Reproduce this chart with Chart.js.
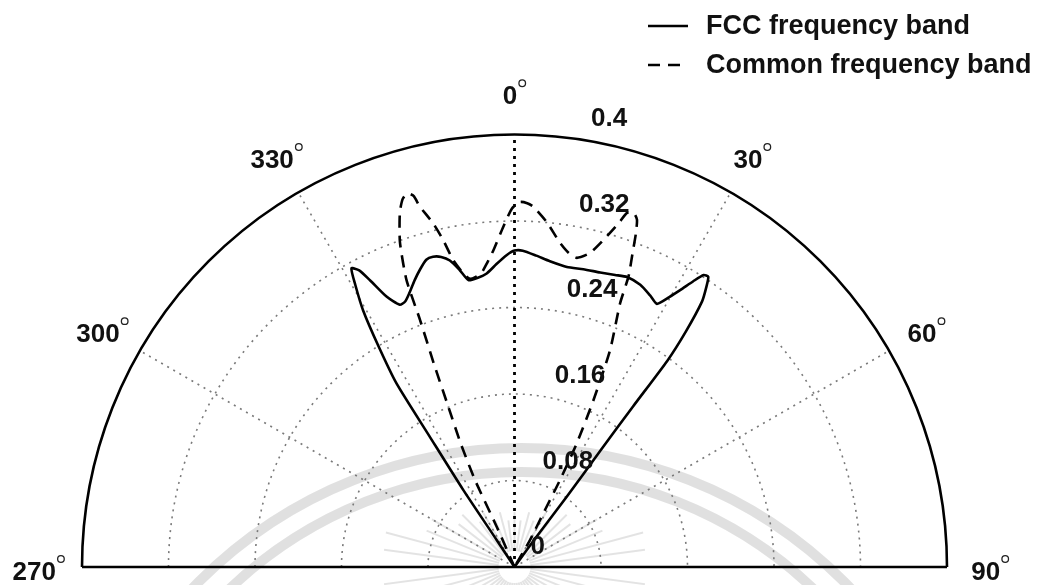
<!DOCTYPE html>
<html>
<head>
<meta charset="utf-8">
<script src="https://cdn.jsdelivr.net/npm/chart.js@4.4.1/dist/chart.umd.min.js"></script>
<style>
  html, body { margin: 0; padding: 0; background: #fff; }
</style>
</head>
<body>
<canvas id="polarChart" width="1039" height="585"></canvas>
<script>
// beam patterns, angle in degrees (0 = up), radius in plot units
var thetaFCC = [-33.5,-33.4,-33.6,-33.0,-32.7,-31.6,-30.5,-29.4,-28.6,-27.6,-26.7,-25.3,-23.6,-22.3,-20.9,-19.2,-17.6,-16.0,-14.7,-13.3,-11.9,-10.5,-9.1,-7.2,-5.4,-3.4,-1.4,0.0,1.5,4.0,6.6,9.9,13.0,16.2,19.0,21.2,24.0,26.5,28.4,29.8,30.9,32.0,32.9,33.7,34.4,35.2,36.0,36.5,36.4,36.4,36.6,35.8,35.0];
var rFCC = [0,0.030,0.086,0.144,0.202,0.240,0.276,0.300,0.315,0.310,0.297,0.277,0.265,0.266,0.272,0.281,0.289,0.296,0.297,0.295,0.290,0.280,0.269,0.270,0.273,0.281,0.289,0.293,0.293,0.289,0.285,0.282,0.283,0.284,0.286,0.288,0.286,0.281,0.277,0.288,0.299,0.312,0.322,0.323,0.314,0.301,0.270,0.238,0.185,0.134,0.081,0.030,0];

var thetaCommon = [-23.5,-23.8,-24.4,-23.5,-22.4,-21.6,-20.9,-20.6,-19.4,-17.9,-16.9,-16.0,-15.2,-14.7,-13.3,-12.3,-11.3,-9.9,-8.8,-7.6,-6.4,-5.1,-3.8,-1.9,-0.4,0.9,2.0,3.0,5.3,8.0,9.8,11.4,13.5,15.6,16.8,17.6,18.55,19.4,20.0,20.5,21.4,21.8,23.75,25.3,26.7,27.6,28.2,29.9,30.0];
var rCommon = [0,0.041,0.088,0.125,0.161,0.203,0.245,0.284,0.319,0.345,0.356,0.360,0.356,0.345,0.327,0.310,0.290,0.276,0.270,0.271,0.274,0.283,0.294,0.315,0.332,0.338,0.337,0.334,0.321,0.303,0.295,0.292,0.299,0.318,0.332,0.344,0.346,0.341,0.328,0.313,0.289,0.263,0.2195,0.171,0.128,0.091,0.056,0.029,0];

var seriesNames = ['FCC frequency band', 'Common frequency band'];

// grid
var ringValues = [0.08, 0.16, 0.24, 0.32];
var rMax = 0.4;
var radiusTicks = [0, 0.08, 0.16, 0.24, 0.32, 0.4];
var radiusTickLabels = ['0', '0.08', '0.16', '0.24', '0.32', '0.4'];
var spokeAngles = [-60, -30, 30, 60];
var angleTicks = [-90, -60, -30, 0, 30, 60, 90];
var angleTickLabels = ['270', '300', '330', '0', '30', '60', '90'];

function toXY(thetas, radii) {
    return thetas.map(function (t, i) {
        var a = t * Math.PI / 180;
        return { x: radii[i] * Math.sin(a), y: radii[i] * Math.cos(a) };
    });
}

var tickFont = 'bold 26px "Liberation Sans", Arial, sans-serif';
var legendFont = 'bold 27px "Liberation Sans", Arial, sans-serif';

function polarGeom(chart) {
    var sx = chart.scales.x, sy = chart.scales.y;
    var cx = sx.getPixelForValue(0), cy = sy.getPixelForValue(0);
    return { cx: cx, cy: cy, R: sx.getPixelForValue(rMax) - cx, px: function (v) { return sx.getPixelForValue(v) - cx; } };
}

// faint logo stamped under the plot
const watermark = {
    id: 'watermark',
    beforeDatasetsDraw(chart) {
        const ctx = chart.ctx;
        const g = polarGeom(chart);
        ctx.save();
        ctx.strokeStyle = 'rgba(0,0,0,0.12)';
        ctx.lineWidth = 10;
        // two bands: [top y, radius]
        [[448, 456], [472, 423]].forEach(function (b) {
            ctx.beginPath();
            ctx.arc(g.cx + 7, b[0] + b[1], b[1], Math.PI, 2 * Math.PI);
            ctx.stroke();
        });
        // sunburst rays, ends on a flat ellipse
        ctx.lineWidth = 2;
        ctx.strokeStyle = 'rgba(0,0,0,0.11)';
        for (var k = 0; k < 48; k++) {
            var a = k * 7.5 * Math.PI / 180;
            var sx = Math.sin(a), cy = Math.cos(a);
            var len = 1 / Math.sqrt((sx / 165) * (sx / 165) + (cy / 55) * (cy / 55));
            if (k % 2 === 1) len *= 0.85;
            ctx.beginPath();
            ctx.moveTo(g.cx + 16 * sx, g.cy - 16 * cy);
            ctx.lineTo(g.cx + len * sx, g.cy - len * cy);
            ctx.stroke();
        }
        ctx.restore();
    }
};

const polarGrid = {
    id: 'polarGrid',
    beforeDatasetsDraw(chart) {
        const ctx = chart.ctx;
        const g = polarGeom(chart);
        ctx.save();
        // dotted rings
        ctx.strokeStyle = '#7a7a7a';
        ctx.lineWidth = 1.6;
        ctx.setLineDash([2, 5]);
        ringValues.forEach(function (v) {
            ctx.beginPath();
            ctx.arc(g.cx, g.cy, g.px(v), Math.PI, 2 * Math.PI);
            ctx.stroke();
        });
        // dotted spokes
        spokeAngles.forEach(function (d) {
            var a = d * Math.PI / 180;
            ctx.beginPath();
            ctx.moveTo(g.cx, g.cy);
            ctx.lineTo(g.cx + g.R * Math.sin(a), g.cy - g.R * Math.cos(a));
            ctx.stroke();
        });
        // 0 degree axis
        ctx.strokeStyle = '#000';
        ctx.lineWidth = 2.8;
        ctx.setLineDash([3, 5]);
        ctx.beginPath();
        ctx.moveTo(g.cx, g.cy);
        ctx.lineTo(g.cx, g.cy - g.R);
        ctx.stroke();
        // outer rim and base line
        ctx.setLineDash([]);
        ctx.lineWidth = 2.6;
        ctx.beginPath();
        ctx.arc(g.cx, g.cy, g.R, Math.PI, 2 * Math.PI);
        ctx.stroke();
        ctx.beginPath();
        ctx.moveTo(g.cx - g.R, g.cy);
        ctx.lineTo(g.cx + g.R, g.cy);
        ctx.stroke();
        ctx.restore();
    }
};

const polarLabels = {
    id: 'polarLabels',
    afterDraw(chart) {
        const ctx = chart.ctx;
        const g = polarGeom(chart);
        ctx.save();
        ctx.fillStyle = '#111';
        ctx.font = tickFont;
        ctx.textBaseline = 'middle';

        // radius labels along the 82 degree ray
        ctx.textAlign = 'left';
        radiusTicks.forEach(function (v, i) {
            var rp = g.px(v);
            ctx.fillText(radiusTickLabels[i], g.cx + 16 + rp * 0.14, g.cy - (rp * 0.99 + 20));
        });

        // angle labels with a small raised ring as degree mark
        var rl = g.R * 1.1;
        ctx.strokeStyle = '#222';
        ctx.lineWidth = 1.3;
        angleTicks.forEach(function (d, i) {
            var a = d * Math.PI / 180;
            var x = g.cx + rl * Math.sin(a), y = g.cy - rl * Math.cos(a) + 6;
            var w = ctx.measureText(angleTickLabels[i]).width;
            var x0 = x - (w + 9) / 2;
            ctx.fillText(angleTickLabels[i], x0, y);
            ctx.beginPath();
            ctx.arc(x0 + w + 5, y - 14, 3.3, 0, 2 * Math.PI);
            ctx.stroke();
        });

        // legend
        ctx.font = legendFont;
        var rows = [26, 65];
        chart.data.datasets.forEach(function (ds, i) {
            ctx.strokeStyle = '#000';
            ctx.lineWidth = 2.6;
            ctx.setLineDash(ds.borderDash || []);
            ctx.beginPath();
            ctx.moveTo(648, rows[i]);
            ctx.lineTo(688, rows[i]);
            ctx.stroke();
            ctx.setLineDash([]);
            ctx.fillText(ds.label, 706, rows[i] + 1);
        });
        ctx.restore();
    }
};

new Chart(document.getElementById('polarChart').getContext('2d'), {
    type: 'scatter',
    data: {
        datasets: [
            {
                label: seriesNames[0],
                data: toXY(thetaFCC, rFCC),
                showLine: true,
                borderColor: '#000',
                borderWidth: 2.6,
                pointRadius: 0,
                tension: 0.2,
                fill: false
            },
            {
                label: seriesNames[1],
                data: toXY(thetaCommon, rCommon),
                showLine: true,
                borderColor: '#000',
                borderWidth: 2.6,
                borderDash: [12, 8],
                pointRadius: 0,
                tension: 0.2,
                fill: false
            }
        ]
    },
    options: {
        responsive: false,
        animation: false,
        clip: false,
        layout: { padding: { left: 82, right: 92, top: 135, bottom: 18 } },
        scales: {
            x: { type: 'linear', min: -rMax, max: rMax, display: false },
            y: { type: 'linear', min: 0, max: rMax, display: false }
        },
        plugins: {
            legend: { display: false },
            tooltip: { enabled: false }
        }
    },
    plugins: [watermark, polarGrid, polarLabels]
});
</script>
</body>
</html>
